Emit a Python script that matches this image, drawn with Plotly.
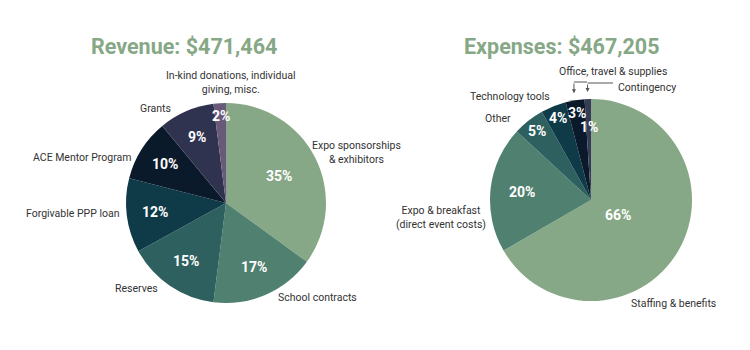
import math
import plotly.graph_objects as go

W, H = 750, 350

# ---------------- data ----------------
rev_title = "Revenue: $471,464"
rev_labels = ["Expo sponsorships<br>& exhibitors", "School contracts", "Reserves",
              "Forgivable PPP loan", "ACE Mentor Program", "Grants",
              "In-kind donations, individual<br>giving, misc."]
rev_pct = [35, 17, 15, 12, 10, 9, 2]

exp_title = "Expenses: $467,205"
exp_labels = ["Staffing & benefits", "Expo & breakfast<br>(direct event costs)", "Other",
              "Technology tools", "Office, travel & supplies", "Contingency"]
exp_pct = [66, 20, 5, 4, 3, 1]

# ---------------- style ----------------
rev_colors = ["#87a886", "#4f8070", "#2d605e", "#0f3b48", "#0b1a2b", "#2f3350", "#6a5a7a"]
exp_colors = ["#87a886", "#4f8070", "#2d605e", "#0f3b48", "#0b1a2b", "#363b58"]
TITLE_COLOR = "#86a886"
LABEL_COLOR = "#333333"
FONT = "Roboto"

# pie geometry (pixels): centre x, centre y, radius
REV_PIE = (226, 203, 100)
EXP_PIE = (591, 200, 101)
TITLE_Y = 46
TITLE_X = {"rev": 184, "exp": 562}

# category label placement: (angle deg clockwise from 12 o'clock, radius factor, xanchor)
rev_label_pos = [(69, 1.40, "center"), (152, 1.065, "left"), (217.5, 1.08, "right"),
                 (264, 1.05, "right"), (296, 1.03, "right"), (330.6, 1.08, "right"),
                 (2, 1.205, "center")]
exp_label_pos = [(159.8, 1.09, "left"), (260.4, 1.035, "right"), (316.4, 1.12, "right"),
                 (339.4, 1.10, "right"), (9.8, 1.29, "center"), (12.5, 1.145, "left")]
# elbow leader lines for tiny slices: index -> (elbow y px, elbow end x px)
exp_leaders = {4: (82, 587), 5: (83, 613)}


def px(x, y):
    return x / W, 1 - y / H


def domain(cx, cy, r):
    return dict(x=[(cx - r) / W, (cx + r) / W], y=[1 - (cy + r) / H, 1 - (cy - r) / H])


def mid_angles(vals):
    tot = float(sum(vals))
    out, cum = [], 0.0
    for v in vals:
        out.append(((cum + v / 2) / tot * 360, v / tot * 360))
        cum += v
    return out


def polar(pie, ang, rf):
    cx, cy, r = pie
    a = math.radians(ang)
    return cx + rf * r * math.sin(a), cy - rf * r * math.cos(a)


def pct_radius(v, span):
    if v >= 8:
        half = math.radians(span / 2)
        return 1.1 * 2 * math.sin(half) / (3 * half)
    if v >= 2:
        return 0.87
    return 0.72


fig = go.Figure()
annotations = []
shapes = []


def add_pie(pie, labels, vals, colors, title, title_x, label_pos, leaders):
    fig.add_trace(go.Pie(
        labels=[l.replace("<br>", " ") for l in labels], values=vals, sort=False,
        direction="clockwise", rotation=0, domain=domain(*pie),
        marker=dict(colors=colors, line=dict(width=0)),
        textinfo="none", hoverinfo="label+percent", showlegend=False))
    tx, ty = px(title_x, TITLE_Y)
    annotations.append(dict(x=tx, y=ty, xref="paper", yref="paper", text="<b>%s</b>" % title,
                            showarrow=False, xanchor="center", yanchor="middle",
                            font=dict(family=FONT, size=21.5, color=TITLE_COLOR)))
    for i, ((mid, span), v) in enumerate(zip(mid_angles(vals), vals)):
        x, y = polar(pie, mid, pct_radius(v, span))
        xp, yp = px(x, y)
        annotations.append(dict(x=xp, y=yp, xref="paper", yref="paper", text="<b>%d%%</b>" % v,
                                showarrow=False, xanchor="center", yanchor="middle",
                                font=dict(family=FONT, size=14, color="white")))
        ang, lrf, xa = label_pos[i]
        x, y = polar(pie, ang, lrf)
        xp, yp = px(x, y)
        annotations.append(dict(x=xp, y=yp, xref="paper", yref="paper", text=labels[i],
                                showarrow=False, xanchor=xa, yanchor="middle", align="center",
                                font=dict(family=FONT, size=10.5, color=LABEL_COLOR)))
        if i in leaders:
            ey, ex = leaders[i]
            tipx, tipy = polar(pie, mid, 1.07)
            x0, y0 = px(tipx, ey)
            x1, _ = px(ex, ey)
            shapes.append(dict(type="line", xref="paper", yref="paper", x0=x0, y0=y0, x1=x1, y1=y0,
                               line=dict(color="#555555", width=1)))
            txp, typ = px(tipx, tipy)
            annotations.append(dict(x=txp, y=typ, xref="paper", yref="paper", text="",
                                    showarrow=True, ax=0, ay=-(tipy - ey), arrowhead=2,
                                    arrowsize=0.8, arrowwidth=1, arrowcolor="#555555", standoff=0))


add_pie(REV_PIE, rev_labels, rev_pct, rev_colors, rev_title, TITLE_X["rev"], rev_label_pos, {})
add_pie(EXP_PIE, exp_labels, exp_pct, exp_colors, exp_title, TITLE_X["exp"], exp_label_pos, exp_leaders)

fig.update_layout(width=W, height=H, margin=dict(l=0, r=0, t=0, b=0),
                  paper_bgcolor="white", plot_bgcolor="white",
                  annotations=annotations, shapes=shapes,
                  font=dict(family=FONT))

fig.write_html("out.html")
